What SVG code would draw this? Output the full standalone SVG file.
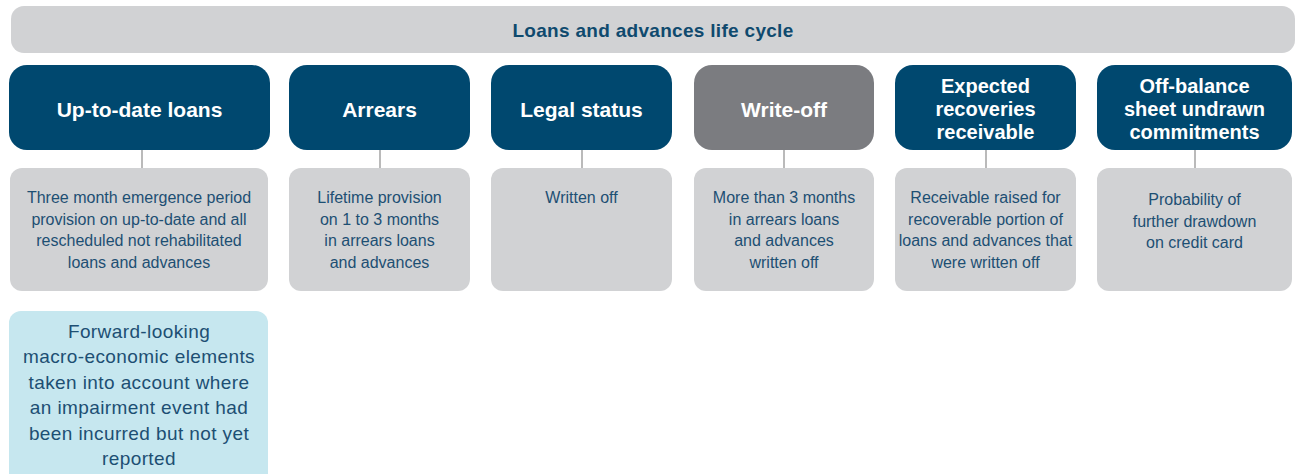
<svg xmlns="http://www.w3.org/2000/svg" width="1296" height="474" viewBox="0 0 1296 474">
<style>
.hdr{fill:#00486f}
.gry{fill:#7b7c80}
.desc{fill:#d1d2d4}
.fwd{fill:#c6e7ef}
.ht{font-family:"Liberation Sans",Arial,sans-serif;font-weight:bold;font-size:21px;fill:#ffffff;text-anchor:middle}
.ht3{font-size:20px}
.dt{font-family:"Liberation Sans",Arial,sans-serif;font-size:16px;fill:#1d4f73;text-anchor:middle}
.ft{font-family:"Liberation Sans",Arial,sans-serif;font-size:19px;letter-spacing:0.4px;fill:#1d4f73;text-anchor:middle}
.tt{font-family:"Liberation Sans",Arial,sans-serif;font-weight:bold;font-size:19px;letter-spacing:0.3px;fill:#0f4a6e;text-anchor:middle}
.conn line{stroke:#8c8c8c;stroke-width:1.2}
</style>
<rect width="1296" height="474" fill="#ffffff"/>
<g id="title">
<rect x="11" y="6" width="1284" height="47" rx="13" fill="#d1d2d4"/>
<text class="tt" x="653" y="36.5">Loans and advances life cycle</text>
</g>
<g class="conn" id="connectors">
<line x1="142" y1="150" x2="142" y2="168"/>
<line x1="380" y1="150" x2="380" y2="168"/>
<line x1="582" y1="150" x2="582" y2="168"/>
<line x1="784" y1="150" x2="784" y2="168"/>
<line x1="986" y1="150" x2="986" y2="168"/>
<line x1="1195" y1="150" x2="1195" y2="168"/>
</g>
<g id="n1">
<rect class="hdr" x="9" y="65" width="261" height="85" rx="18"/>
<text class="ht" x="139.5" y="116.5">Up-to-date loans</text>
</g>
<g id="n2">
<rect class="hdr" x="289" y="65" width="181" height="85" rx="18"/>
<text class="ht" x="379.5" y="116.5">Arrears</text>
</g>
<g id="n3">
<rect class="hdr" x="491" y="65" width="181" height="85" rx="18"/>
<text class="ht" x="581.5" y="116.5">Legal status</text>
</g>
<g id="n4">
<rect class="gry" x="694" y="65" width="180" height="85" rx="18"/>
<text class="ht" x="784" y="116.5">Write-off</text>
</g>
<g id="n5">
<rect class="hdr" x="895" y="65" width="181" height="85" rx="18"/>
<text class="ht ht3" x="985.5" y="93">Expected</text>
<text class="ht ht3" x="985.5" y="116">recoveries</text>
<text class="ht ht3" x="985.5" y="139">receivable</text>
</g>
<g id="n6">
<rect class="hdr" x="1097" y="65" width="195" height="85" rx="18"/>
<text class="ht ht3" x="1194.5" y="93">Off-balance</text>
<text class="ht ht3" x="1194.5" y="116">sheet undrawn</text>
<text class="ht ht3" x="1194.5" y="139">commitments</text>
</g>
<g id="d1">
<rect class="desc" x="10" y="168" width="258" height="123" rx="12"/>
<text class="dt" x="139" y="203">Three month emergence period</text>
<text class="dt" x="139" y="224.5">provision on up-to-date and all</text>
<text class="dt" x="139" y="246">rescheduled not rehabilitated</text>
<text class="dt" x="139" y="267.5">loans and advances</text>
</g>
<g id="d2">
<rect class="desc" x="289" y="168" width="181" height="123" rx="12"/>
<text class="dt" x="379.5" y="203">Lifetime provision</text>
<text class="dt" x="379.5" y="224.5">on 1 to 3 months</text>
<text class="dt" x="379.5" y="246">in arrears loans</text>
<text class="dt" x="379.5" y="267.5">and advances</text>
</g>
<g id="d3">
<rect class="desc" x="491" y="168" width="181" height="123" rx="12"/>
<text class="dt" x="581.5" y="203">Written off</text>
</g>
<g id="d4">
<rect class="desc" x="694" y="168" width="180" height="123" rx="12"/>
<text class="dt" x="784" y="203">More than 3 months</text>
<text class="dt" x="784" y="224.5">in arrears loans</text>
<text class="dt" x="784" y="246">and advances</text>
<text class="dt" x="784" y="267.5">written off</text>
</g>
<g id="d5">
<rect class="desc" x="895" y="168" width="181" height="123" rx="12"/>
<text class="dt" x="985.5" y="203">Receivable raised for</text>
<text class="dt" x="985.5" y="224.5">recoverable portion of</text>
<text class="dt" x="985.5" y="246">loans and advances that</text>
<text class="dt" x="985.5" y="267.5">were written off</text>
</g>
<g id="d6">
<rect class="desc" x="1097" y="168" width="195" height="123" rx="12"/>
<text class="dt" x="1194.5" y="205">Probability of</text>
<text class="dt" x="1194.5" y="226.5">further drawdown</text>
<text class="dt" x="1194.5" y="248">on credit card</text>
</g>
<g id="fwd">
<rect class="fwd" x="9" y="311" width="259" height="175" rx="12"/>
<text class="ft" x="139" y="337.5">Forward-looking</text>
<text class="ft" x="139" y="363">macro-economic elements</text>
<text class="ft" x="139" y="388.5">taken into account where</text>
<text class="ft" x="139" y="414">an impairment event had</text>
<text class="ft" x="139" y="439.5">been incurred but not yet</text>
<text class="ft" x="139" y="465">reported</text>
</g>
</svg>
